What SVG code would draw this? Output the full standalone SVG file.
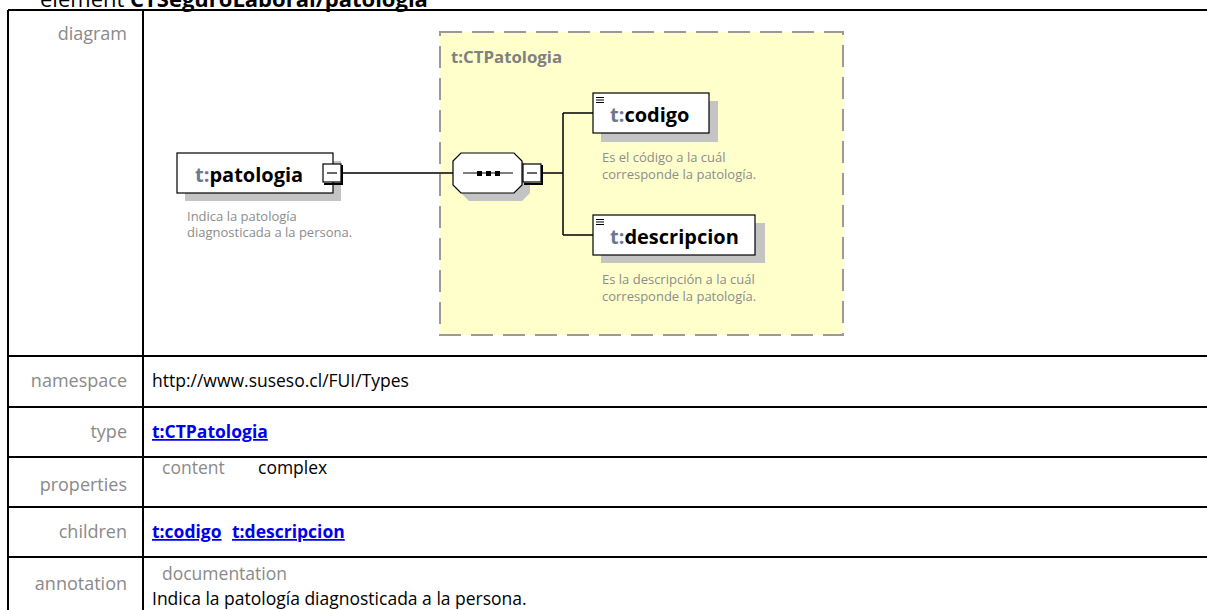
<svg xmlns="http://www.w3.org/2000/svg" width="1207" height="610" viewBox="0 0 1207 610">
<style>
.lbl{font-family:"Open Sans","Noto Sans",sans-serif;font-size:18px;fill:#8a8a8a;text-anchor:end}
.val{font-family:"Open Sans","Noto Sans",sans-serif;font-size:17.5px;fill:#000}
.sub{font-family:"Open Sans","Noto Sans",sans-serif;font-size:17.5px;fill:#8a8a8a}
.lnk{font-family:"Open Sans","Noto Sans",sans-serif;font-size:17.5px;font-weight:bold;fill:#0000ee;text-decoration:underline}
.grid{stroke:#000;stroke-width:2;fill:none}
.node{fill:#fff;stroke:#000;stroke-width:1.2}
.shadow{fill:#c4c4c4}
.nname{font-family:"Open Sans","Noto Sans",sans-serif;font-size:20px;font-weight:bold;fill:#000}
.pre{fill:#6b7890}
.desc{font-family:"Open Sans","Noto Sans",sans-serif;font-size:13px;fill:#8c8c8c}
.conn{stroke:#000;stroke-width:1.5;fill:none}
</style>
<rect width="1207" height="610" fill="#fff"/>
<text x="40" y="7" font-family="Open Sans, Noto Sans, sans-serif" font-size="22" fill="#000">element <tspan font-weight="bold">CTSeguroLaboral/patologia</tspan></text>
<g id="table">
<path class="grid" d="M8 10H1210M8 10V612M143 10V612M8 356H1210M8 407H1210M8 457H1210M8 507H1210M8 557H1210"/>
<text class="lbl" x="127" y="40">diagram</text>
<text class="lbl" x="127" y="387">namespace</text>
<text class="val" x="152" y="387">http://www.suseso.cl/FUI/Types</text>
<text class="lbl" x="127" y="438">type</text>
<text class="lnk" x="152" y="438">t:CTPatologia</text>
<text class="lbl" x="127" y="491">properties</text>
<text class="sub" x="162" y="474">content</text>
<text class="val" x="258" y="474">complex</text>
<text class="lbl" x="127" y="538">children</text>
<text class="lnk" x="152" y="538">t:codigo</text>
<text class="lnk" x="232" y="538">t:descripcion</text>
<text class="lbl" x="127" y="590">annotation</text>
<text class="sub" x="162" y="580">documentation</text>
<text class="val" x="152" y="605">Indica la patología diagnosticada a la persona.</text>
</g>
<g id="ctpatologia">
<rect x="440" y="32" width="403" height="303" fill="#ffffcc" stroke="#9a9a9a" stroke-width="2" stroke-dasharray="22,10"/>
<text x="451" y="63" font-family="Open Sans, Noto Sans, sans-serif" font-size="16.8" font-weight="bold" fill="#808080">t:CTPatologia</text>
</g>
<g id="connectors">
<path class="conn" d="M343 173H453M542 173H563M563 113V235M563 113H593M563 235H593"/>
</g>
<g id="patologia">
<rect class="shadow" x="185" y="161" width="156" height="40"/>
<rect class="node" x="177" y="153" width="156" height="40"/>
<text class="nname" x="195" y="182"><tspan class="pre">t:</tspan>patologia</text>
<rect x="323" y="164" width="18" height="18" fill="#fff" stroke="#000" stroke-width="1.2"/>
<path d="M342 165V184H324" stroke="#000" stroke-width="2" fill="none"/>
<path d="M327 173H337" stroke="#000" stroke-width="1.2"/>
<text class="desc" x="187" y="221">Indica la patología</text>
<text class="desc" x="187" y="237">diagnosticada a la persona.</text>
</g>
<g id="sequence">
<polygon class="shadow" points="469,161 522,161 530,169 530,193 522,201 469,201 461,193 461,169"/>
<polygon class="node" points="461,153 514,153 522,161 522,185 514,193 461,193 453,185 453,161"/>
<path d="M463 173H513" stroke="#000" stroke-width="1.2"/>
<rect x="477" y="171" width="5" height="5" fill="#000"/>
<rect x="486" y="171" width="5" height="5" fill="#000"/>
<rect x="495" y="171" width="5" height="5" fill="#000"/>
<rect x="523" y="164" width="18" height="18" fill="#fff" stroke="#000" stroke-width="1.2"/>
<path d="M542 165V184H524" stroke="#000" stroke-width="2" fill="none"/>
<path d="M527 173H537" stroke="#000" stroke-width="1.2"/>
</g>
<g id="codigo">
<rect class="shadow" x="601" y="101" width="117" height="41"/>
<rect class="node" x="593" y="93" width="116" height="40"/>
<path d="M596 97.5H604M596 100H604M596 102.5H604" stroke="#000" stroke-width="1.2"/>
<text class="nname" x="610" y="122"><tspan class="pre">t:</tspan>codigo</text>
<text class="desc" x="602" y="162">Es el código a la cuál</text>
<text class="desc" x="602" y="179">corresponde la patología.</text>
</g>
<g id="descripcion">
<rect class="shadow" x="601" y="223" width="164" height="40"/>
<rect class="node" x="593" y="215" width="162" height="40"/>
<path d="M596 219.5H604M596 222H604M596 224.5H604" stroke="#000" stroke-width="1.2"/>
<text class="nname" x="610" y="244"><tspan class="pre">t:</tspan>descripcion</text>
<text class="desc" x="602" y="284">Es la descripción a la cuál</text>
<text class="desc" x="602" y="301">corresponde la patología.</text>
</g>
</svg>
